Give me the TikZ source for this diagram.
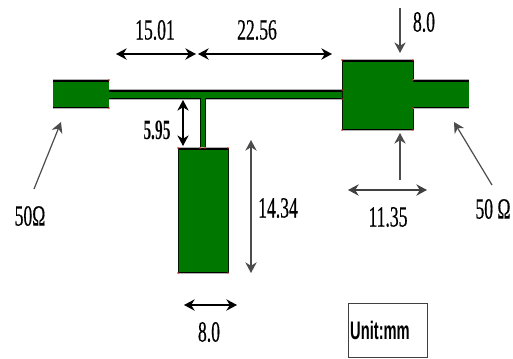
\documentclass[tikz,border=0pt]{standalone}
\usepackage{fontspec}
\usetikzlibrary{arrows.meta}
\setmainfont{Liberation Serif}
\newfontfamily\dimfont[FakeStretch=0.6,FakeBold=0.4]{Liberation Serif}
\newfontfamily\smallfont[FakeStretch=0.55]{Liberation Serif Bold}
\newfontfamily\unitfont[FakeStretch=0.58]{Liberation Sans Bold}
\definecolor{stripgreen}{RGB}{0,120,0}
\definecolor{cornerred}{RGB}{230,30,20}
\tikzset{
  x=0.75pt,y=-0.75pt,
  strip/.style={fill=stripgreen,draw=none,inner sep=0pt,outer sep=0pt,anchor=north west},
  edgeT/.style={draw=black,line width=1.3pt},
  edgeS/.style={draw=black!80!stripgreen,line width=0.6pt},
  halo/.style={draw=black!30,line width=0.9pt},
  dot/.style={fill=cornerred,draw=none},
  dimA/.style={draw=black,line width=1.1pt,{Stealth[length=8pt,width=8.5pt]}-{Stealth[length=8pt,width=8.5pt]}},
  dimB/.style={draw=black!70,line width=0.9pt,-{Stealth[length=8pt,width=8.5pt]}},
  dimC/.style={draw=black!70,line width=1pt,{Stealth[length=8pt,width=8.5pt]}-{Stealth[length=8pt,width=8.5pt]}},
  lab/.style={inner sep=0pt,font=\fontsize{22}{22}\dimfont},
  labsmall/.style={inner sep=0pt,font=\fontsize{21}{21}\smallfont},
}
\newcommand{\patch}[5]{%
  \node[strip,minimum width=#4*0.75pt,minimum height=#5*0.75pt] (#1) at (#2,#3) {};
  \draw[halo] ([yshift=0.6pt]#1.north west) -- ([yshift=0.6pt]#1.north east);
  \draw[halo] ([yshift=-0.6pt]#1.south west) -- ([yshift=-0.6pt]#1.south east);
  \draw[edgeT] ([yshift=-0.5pt]#1.north west) -- ([yshift=-0.5pt]#1.north east);
  \draw[edgeT,line width=0.9pt] ([yshift=0.35pt]#1.south west) -- ([yshift=0.35pt]#1.south east);
}
\begin{document}
\begin{tikzpicture}
\useasboundingbox (0,0) rectangle (513,358);
% microstrip
\patch{portL}{53}{80}{56}{28}
\patch{line}{109}{90}{233}{9}
\node[strip,minimum width=5*0.75pt,minimum height=50*0.75pt] (stub) at (200,98) {};
\draw[edgeS] (stub.north west) -- (stub.south west);
\draw[edgeS] (stub.north east) -- (stub.south east);
\patch{lower}{178}{148}{50}{125}
\draw[edgeS] (lower.north west) -- (lower.south west);
\draw[edgeS] (lower.north east) -- (lower.south east);
\patch{square}{342}{60}{71}{70}
\draw[edgeS] (square.north west) -- (square.south west);
\draw[edgeS] (square.north east) -- (square.south east);
\patch{portR}{413}{80}{56}{28}
% red corner specks
\foreach \p in {portL.north east,portL.south east,square.north west,square.north east,square.south west,square.south east,portR.north west,portR.south west,lower.north west,lower.north east,lower.south west,lower.south east,stub.south west,stub.south east,line.north east,line.south east}
  \fill[dot] (\p) circle (0.7pt);
% dimension end points
\coordinate (a1) at (116,54); \coordinate (a2) at (196,54);
\coordinate (b1) at (198,54); \coordinate (b2) at (332,54);
\coordinate (c1) at (400,8);  \coordinate (c2) at (400,53);
\coordinate (d1) at (400,180);\coordinate (d2) at (400,133);
\coordinate (e1) at (183,100);\coordinate (e2) at (183,146);
\coordinate (f1) at (251,140);\coordinate (f2) at (251,273);
\coordinate (g1) at (184,305);\coordinate (g2) at (237,305);
\coordinate (h1) at (348,190);\coordinate (h2) at (427,190);
\coordinate (i1) at (34,189); \coordinate (i2) at (61,122);
\coordinate (j1) at (492,185);\coordinate (j2) at (454,122);
\draw[dimA] (a1) -- (a2);
\draw[dimA] (b1) -- (b2);
\draw[dimB] (c1) -- (c2);
\draw[dimB] (d1) -- (d2);
\draw[dimA,line width=0.9pt] (e1) -- (e2);
\draw[dimC] (f1) -- (f2);
\draw[dimA] (g1) -- (g2);
\draw[dimA,draw=black!75] (h1) -- (h2);
\draw[dimB] (i1) -- (i2);
\draw[dimB] (j1) -- (j2);
% labels
\node[lab] (t1) at (155,30) {15.01};
\node[lab] (t2) at (257,30) {22.56};
\node[lab] (t3) at (424,22) {8.0};
\node[labsmall] (t4) at (157,130) {5.95};
\node[lab] (t5) at (278,208) {14.34};
\node[lab] (t6) at (209,332) {8.0};
\node[lab] (t7) at (388,217) {11.35};
\node[lab] (t8) at (30,216) {50Ω};
\node[lab] (t9) at (493,209) {50 Ω};
\node[draw=black!75,line width=0.9pt,minimum width=79*0.75pt,minimum height=54*0.75pt,inner sep=0pt,anchor=north west] (unit) at (348,303) {};
\node[inner sep=0pt,font=\fontsize{19}{19}\unitfont] (ut) at (380,330) {Unit:mm};
\end{tikzpicture}
\end{document}
